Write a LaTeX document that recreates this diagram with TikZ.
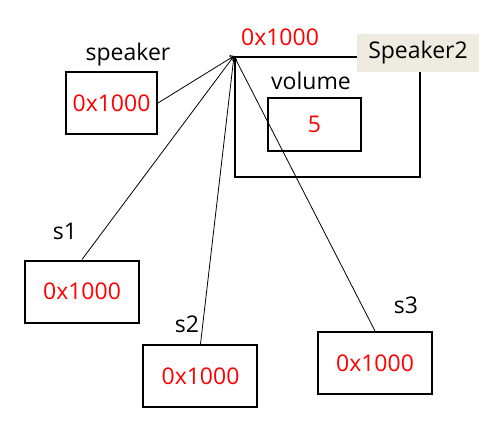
\documentclass[tikz,border=0pt]{standalone}
\usepackage{fontspec}
\setmainfont{Open Sans}
\usetikzlibrary{arrows,positioning}
\definecolor{tagback}{RGB}{238,236,225}

\begin{document}
\begin{tikzpicture}[x=0.5pt, y=-0.5pt, font=\fontsize{11.5}{13}\selectfont,
    box/.style={draw, line width=1pt, text=red, inner sep=0pt},
    ref/.style={box, minimum width=57pt, minimum height=31pt}]
    \useasboundingbox (0,0) rectangle (495,429);

    % the object in memory
    \node[draw, line width=1pt, minimum width=92.5pt, minimum height=60pt] (obj) at (327.5,117) {};
    \node[fill=tagback, minimum width=61pt, minimum height=19pt] (spk2) at (418,53) {Speaker2};
    \node[box, minimum width=46.5pt, minimum height=26.5pt] (vol) at (314.5,124.5) {5};
    \node (vollbl) at (311,81) {volume};
    \node[text=red] (addr) at (280,37) {0x1000};

    % the references
    \node[box, minimum width=45.5pt, minimum height=31pt] (speaker) at (111.5,103) {0x1000};
    \node (speakerlbl) at (128,55) {speaker};
    \node[ref] (s1) at (82,291.5) {0x1000};
    \node (s1lbl) at (65,231) {s1};
    \node[ref] (s2) at (200.5,376) {0x1000};
    \node (s2lbl) at (187,324) {s2};
    \node[ref] (s3) at (375,363) {0x1000};
    \node (s3lbl) at (406,305) {s3};

    \path[->, thin]
        (speaker.east) edge (obj.north west)
        (s1.north) edge (obj.north west)
        (s2.north) edge (obj.north west)
        (s3.north) edge (obj.north west)
    ;
\end{tikzpicture}
\end{document}
